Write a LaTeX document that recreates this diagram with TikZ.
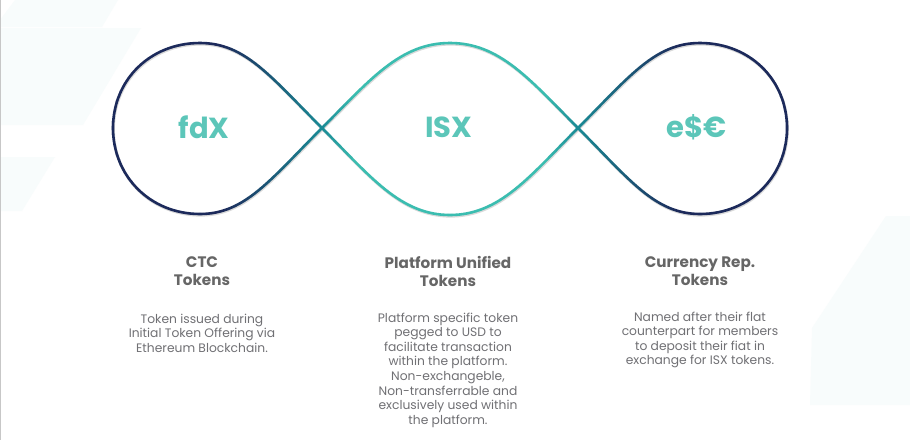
\documentclass[tikz,border=0pt]{standalone}
\usepackage{fontspec}
\setmainfont{Poppins}
\definecolor{navy}{HTML}{1C2A5B}
\definecolor{tealdk}{HTML}{1A8A95}
\definecolor{tealmid}{HTML}{3BBDB0}
\definecolor{labteal}{HTML}{5CC6B9}
\definecolor{titlegray}{HTML}{666666}
\definecolor{bodygray}{HTML}{707074}
\definecolor{bgfaint}{HTML}{F8FCFC}
\tikzset{
  lab/.style={font=\bfseries\fontsize{29}{32}\selectfont, text=labteal, inner sep=0pt},
  ttl/.style={font=\bfseries\fontsize{15.2}{18}\selectfont, text=titlegray, align=center, inner sep=0pt},
  bodytxt/.style={font=\fontsize{12.3}{14.6}\selectfont, text=bodygray, align=center, inner sep=0pt},
  band/.style={line width=2.6pt}
}
\def\infcurve{(322,128) .. controls (370,80) and (400,43) .. (450,43)
  .. controls (500,43) and (530,80) .. (578,128)
  .. controls (630,180) and (655,214) .. (700,214)
  .. controls (750,214) and (787,176) .. (787,128)
  .. controls (787,80) and (750,43) .. (700,43)
  .. controls (655,43) and (630,76) .. (578,128)
  .. controls (530,176) and (500,215) .. (450,215)
  .. controls (400,215) and (370,176) .. (322,128)
  .. controls (270,76) and (245,43) .. (200,43)
  .. controls (150,43) and (113,80) .. (113,128)
  .. controls (113,176) and (150,214) .. (200,214)
  .. controls (245,214) and (270,180) .. (322,128) -- cycle}
\begin{document}
\begin{tikzpicture}[x=1pt,y=-1pt]
\fill[white] (0,0) rectangle (910,440);
\useasboundingbox (0,0) rectangle (910,440);
% faint background shapes
\fill[bgfaint] (15,0) -- (118,0) -- (102,27) -- (0,27) -- (0,20) -- cycle;
\fill[bgfaint] (0,28) -- (141,28) -- (83,125) -- (0,125) -- cycle;
\fill[bgfaint] (0,157) -- (55,157) -- (22,211) -- (0,211) -- cycle;
\fill[bgfaint] (812,328) -- (886,216) -- (910,216) -- (910,405) -- (810,405) -- cycle;
\draw[black!22, line width=1.2pt] (0.6,0) -- (0.6,440);
% shadow
\draw[band, black!15, shift={(0.6,1.3)}] \infcurve;
% gradient strips
\foreach \xs in {104,108,...,796} {
  \pgfmathsetmacro\dd{abs(\xs+2-450)}
  \pgfmathsetmacro\pa{min(100,max(0,(\dd-128)*1.0))}
  \pgfmathsetmacro\pb{min(100,max(0,(128-\dd)*3))}
  \colorlet{cc}{tealmid!\pb!tealdk}
  \colorlet{cc}{navy!\pa!cc}
  \begin{scope}
    \clip (\xs-0.2,0) rectangle (\xs+4.2,440);
    \draw[band, cc] \infcurve;
  \end{scope}
}
% labels
\node[lab] (fdx) at (204,127) {fdX};
\node[lab] (isx) at (449,127) {ISX};
\node[lab] (esx) at (697,127) {e\$€};
% titles
\node[ttl] (t1) at (202,271) {CTC\\Tokens};
\node[ttl] (t2) at (448,271) {Platform Unified\\Tokens};
\node[ttl] (t3) at (700,271) {Currency Rep.\\Tokens};
% bodies
\node[bodytxt] (b1) at (202,333) {Token issued during\\Initial Token Offering via\\Ethereum Blockchain.};
\node[bodytxt] (b2) at (448,370) {Platform specific token\\pegged to USD to\\facilitate transaction\\within the platform.\\Non-exchangeble,\\Non-transferrable and\\exclusively used within\\the platform.};
\node[bodytxt] (b3) at (700,340) {Named after their flat\\counterpart for members\\to deposit their fiat in\\exchange for ISX tokens.};
\end{tikzpicture}
\end{document}
